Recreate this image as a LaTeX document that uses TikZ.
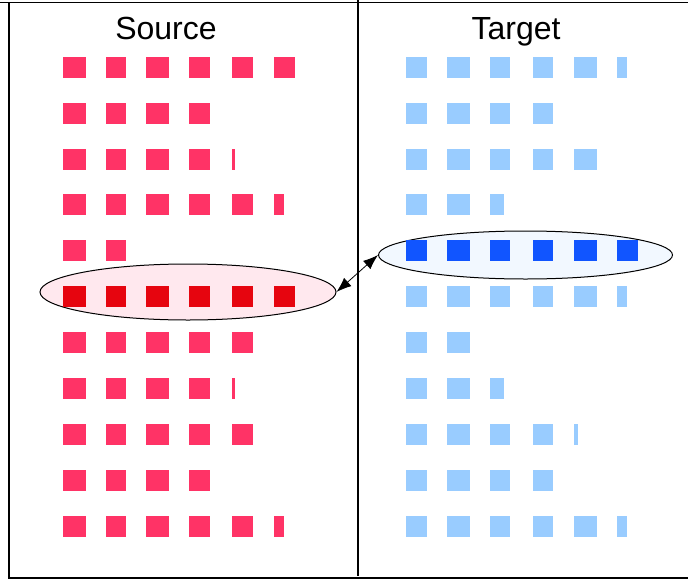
\documentclass[tikz,border=0pt]{standalone}
\usepackage{fontspec}
\setmainfont{Liberation Sans}
\usetikzlibrary{shapes.geometric,arrows.meta}
\definecolor{srcpink}{HTML}{FF3366}
\definecolor{srcdark}{HTML}{E6050F}
\definecolor{tgtlight}{HTML}{99CCFF}
\definecolor{tgtdark}{HTML}{1155FF}
\definecolor{srcfill}{HTML}{FFE8EE}
\definecolor{tgtfill}{HTML}{F2F8FF}
\newcommand\boxrow[3]{\foreach \bx/\bw in {#3} {\fill[#1] (\bx,#2) rectangle ++(\bw,21);}}
\begin{document}
\begin{tikzpicture}[x=1pt,y=-1pt,
  frameline/.style={draw=black,line width=1.3pt},
  hilite/.style={ellipse,draw=black,line width=1pt,inner sep=0pt},
  title/.style={font=\fontsize{32}{32}\selectfont,anchor=base,inner sep=0pt},
  link/.style={draw=black,line width=0.8pt,{Latex[length=15pt,width=11pt]}-{Latex[length=15pt,width=11pt]}}]
\useasboundingbox (0,0) rectangle (688,581);
% frame
\draw[frameline] (0,2.5) -- (688,2.5);
\draw[frameline] (9,2.5) -- (9,578) -- (688,578);
\draw[line width=1.6pt] (358,0) -- (358,576);
% titles
\node[title] (srct) at (166,39) {Source};
\node[title] (tgtt) at (516,39) {Target};
% highlight ellipses
\node[hilite,fill=srcfill,minimum width=296pt,minimum height=56pt] (se) at (188,292) {};
\node[hilite,fill=tgtfill,minimum width=294pt,minimum height=48pt] (te) at (525.5,255) {};
% source rows
\boxrow{srcpink}{57}{63/23,106/20,146/23,189/21,232/21,274/21}
\boxrow{srcpink}{103}{63/23,106/20,146/23,189/21}
\boxrow{srcpink}{149}{63/23,106/20,146/23,189/21,232/2.5}
\boxrow{srcpink}{194}{63/23,106/20,146/23,189/21,232/21,274/9.5}
\boxrow{srcpink}{240}{63/23,106/20}
\boxrow{srcdark}{286}{63/23,106/20,146/23,189/21,232/21,274/21}
\boxrow{srcpink}{332}{63/23,106/20,146/23,189/21,232/21}
\boxrow{srcpink}{378}{63/23,106/20,146/23,189/21,232/2.5}
\boxrow{srcpink}{424}{63/23,106/20,146/23,189/21,232/21}
\boxrow{srcpink}{470}{63/23,106/20,146/23,189/21}
\boxrow{srcpink}{516}{63/23,106/20,146/23,189/21,232/21,274/9.5}
% target rows
\boxrow{tgtlight}{57}{406/21,447/23,490/20,533/20,574/23,617/10}
\boxrow{tgtlight}{103}{406/21,447/23,490/20,533/20}
\boxrow{tgtlight}{149}{406/21,447/23,490/20,533/20,574/23}
\boxrow{tgtlight}{194}{406/21,447/23,490/13.5}
\boxrow{tgtdark}{240}{406/21,447/23,490/20,533/20,574/23,617/21}
\boxrow{tgtlight}{286}{406/21,447/23,490/20,533/20,574/23,617/10}
\boxrow{tgtlight}{332}{406/21,447/23}
\boxrow{tgtlight}{378}{406/21,447/23,490/13.5}
\boxrow{tgtlight}{424}{406/21,447/23,490/20,533/20,574/4}
\boxrow{tgtlight}{470}{406/21,447/23,490/20,533/20}
\boxrow{tgtlight}{516}{406/21,447/23,490/20,533/20,574/23,617/10}
% link
\draw[link] (se.east) -- (te.west);
\end{tikzpicture}
\end{document}
